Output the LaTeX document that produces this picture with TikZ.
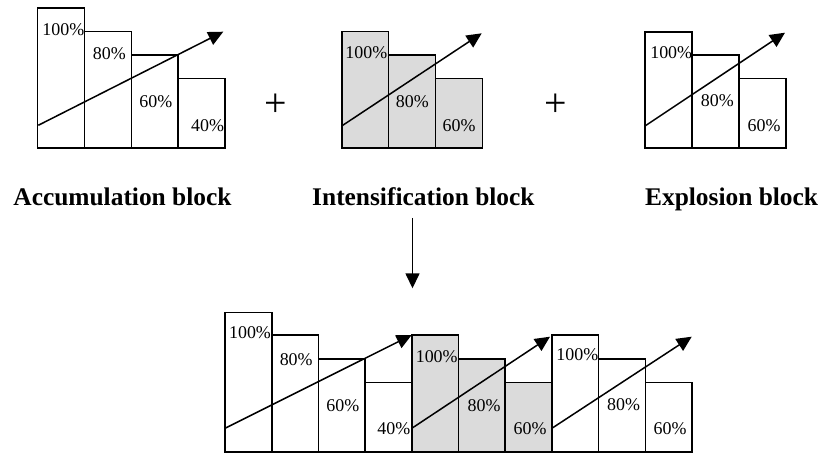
\documentclass[tikz,border=0pt]{standalone}
\usepackage{fontspec}
\setmainfont{Liberation Serif}
\usetikzlibrary{arrows.meta}
\tikzset{
  bar/.style={draw=black, line width=1.6bp, inner sep=0pt, outer sep=0pt, minimum width=46.9bp, anchor=south west},
  wbar/.style={bar, fill=white},
  gbar/.style={bar, fill=black!14},
  pct/.style={inner sep=0pt, font=\fontsize{18}{18}\selectfont},
  blab/.style={inner sep=0pt, font=\fontsize{25.5}{26}\selectfont\bfseries},
  plus/.style={inner sep=0pt, font=\fontsize{40}{40}\selectfont},
  growth/.style={line width=1.5bp, -{Triangle[length=15bp,width=14bp]}}
}
\begin{document}
\begin{tikzpicture}[x=1bp,y=-1bp]
\useasboundingbox (0,0) rectangle (824,453);
% ---- Accumulation block
\node[wbar, minimum height=139.7bp] (a1) at (37.5,148) {};
\node[wbar, minimum height=116.3bp] (a2) at (84.4,148) {};
\node[wbar, minimum height=92.9bp] (a3) at (131.3,148) {};
\node[wbar, minimum height=69.5bp] (a4) at (178.2,148) {};
\node[pct] (ta1) at (63.3,29.3) {100\%};
\node[pct] (ta2) at (109.3,54) {80\%};
\node[pct] (ta3) at (155.8,101.7) {60\%};
\node[pct] (ta4) at (207.5,126) {40\%};
\coordinate (as) at (38.3,125.3);
\coordinate (ae) at (223.3,31.7);
\draw[growth] (as) -- (ae);
% ---- Intensification block
\node[gbar, minimum height=116.6bp] (i1) at (341.7,148.3) {};
\node[gbar, minimum height=93.4bp] (i2) at (388.6,148.3) {};
\node[gbar, minimum height=69.6bp] (i3) at (435.5,148.3) {};
\node[pct] (ti1) at (366.3,52.3) {100\%};
\node[pct] (ti2) at (412.3,101.7) {80\%};
\node[pct] (ti3) at (459,126) {60\%};
\coordinate (is) at (341.7,126);
\coordinate (ie) at (481.7,33.3);
\draw[growth] (is) -- (ie);
% ---- Explosion block
\node[wbar, minimum height=116.3bp] (e1) at (645,148.3) {};
\node[wbar, minimum height=93.4bp] (e2) at (691.9,148.3) {};
\node[wbar, minimum height=69.6bp] (e3) at (738.8,148.3) {};
\node[pct] (te1) at (671.2,52.3) {100\%};
\node[pct] (te2) at (717.3,101) {80\%};
\node[pct] (te3) at (764,126) {60\%};
\coordinate (es) at (645,126);
\coordinate (ee) at (785,32.7);
\draw[growth] (es) -- (ee);
% ---- plus signs
\node[plus] (p1) at (275.7,105.7) {+};
\node[plus] (p2) at (556,105.7) {+};
% ---- block labels
\node[blab, anchor=base east] (la) at (231.7,205.5) {Accumulation block};
\node[blab, anchor=base] (li) at (423.4,205.5) {Intensification block};
\node[blab, anchor=base east] (le) at (818.3,205.5) {Explosion block};
% ---- down arrow
\coordinate (ds) at (412.5,218);
\coordinate (de) at (412.5,288.3);
\draw[growth] (ds) -- (de);
% ---- Combined sequence
\node[wbar, minimum width=46.7bp, minimum height=139bp] (c1) at (225,451.7) {};
\node[wbar, minimum width=46.7bp, minimum height=116.4bp] (c2) at (271.7,451.7) {};
\node[wbar, minimum width=46.7bp, minimum height=92.4bp] (c3) at (318.4,451.7) {};
\node[wbar, minimum width=46.7bp, minimum height=69bp] (c4) at (365.1,451.7) {};
\node[gbar, minimum width=46.7bp, minimum height=116.4bp] (c5) at (411.8,451.7) {};
\node[gbar, minimum width=46.7bp, minimum height=92.4bp] (c6) at (458.5,451.7) {};
\node[gbar, minimum width=46.7bp, minimum height=69bp] (c7) at (505.2,451.7) {};
\node[wbar, minimum width=46.7bp, minimum height=116.4bp] (c8) at (551.9,451.7) {};
\node[wbar, minimum width=46.7bp, minimum height=92.4bp] (c9) at (598.6,451.7) {};
\node[wbar, minimum width=46.7bp, minimum height=69bp] (c10) at (645.3,451.7) {};
\node[pct] (tc1) at (250,332.3) {100\%};
\node[pct] (tc2) at (296.2,359.3) {80\%};
\node[pct] (tc3) at (342.8,406) {60\%};
\node[pct] (tc4) at (393.8,428.3) {40\%};
\node[pct] (tc5) at (436.7,356.7) {100\%};
\node[pct] (tc6) at (484,406) {80\%};
\node[pct] (tc7) at (530,428.3) {60\%};
\node[pct] (tc8) at (577.3,355) {100\%};
\node[pct] (tc9) at (623.5,405) {80\%};
\node[pct] (tc10) at (670,428.3) {60\%};
\coordinate (cs1) at (225,428.3);
\coordinate (ce1) at (411.7,335);
\coordinate (cs2) at (411.8,428.3);
\coordinate (ce2) at (550,336.7);
\coordinate (cs3) at (551.9,428.3);
\coordinate (ce3) at (691.7,336.7);
\draw[growth] (cs1) -- (ce1);
\draw[growth] (cs2) -- (ce2);
\draw[growth] (cs3) -- (ce3);
\end{tikzpicture}
\end{document}
